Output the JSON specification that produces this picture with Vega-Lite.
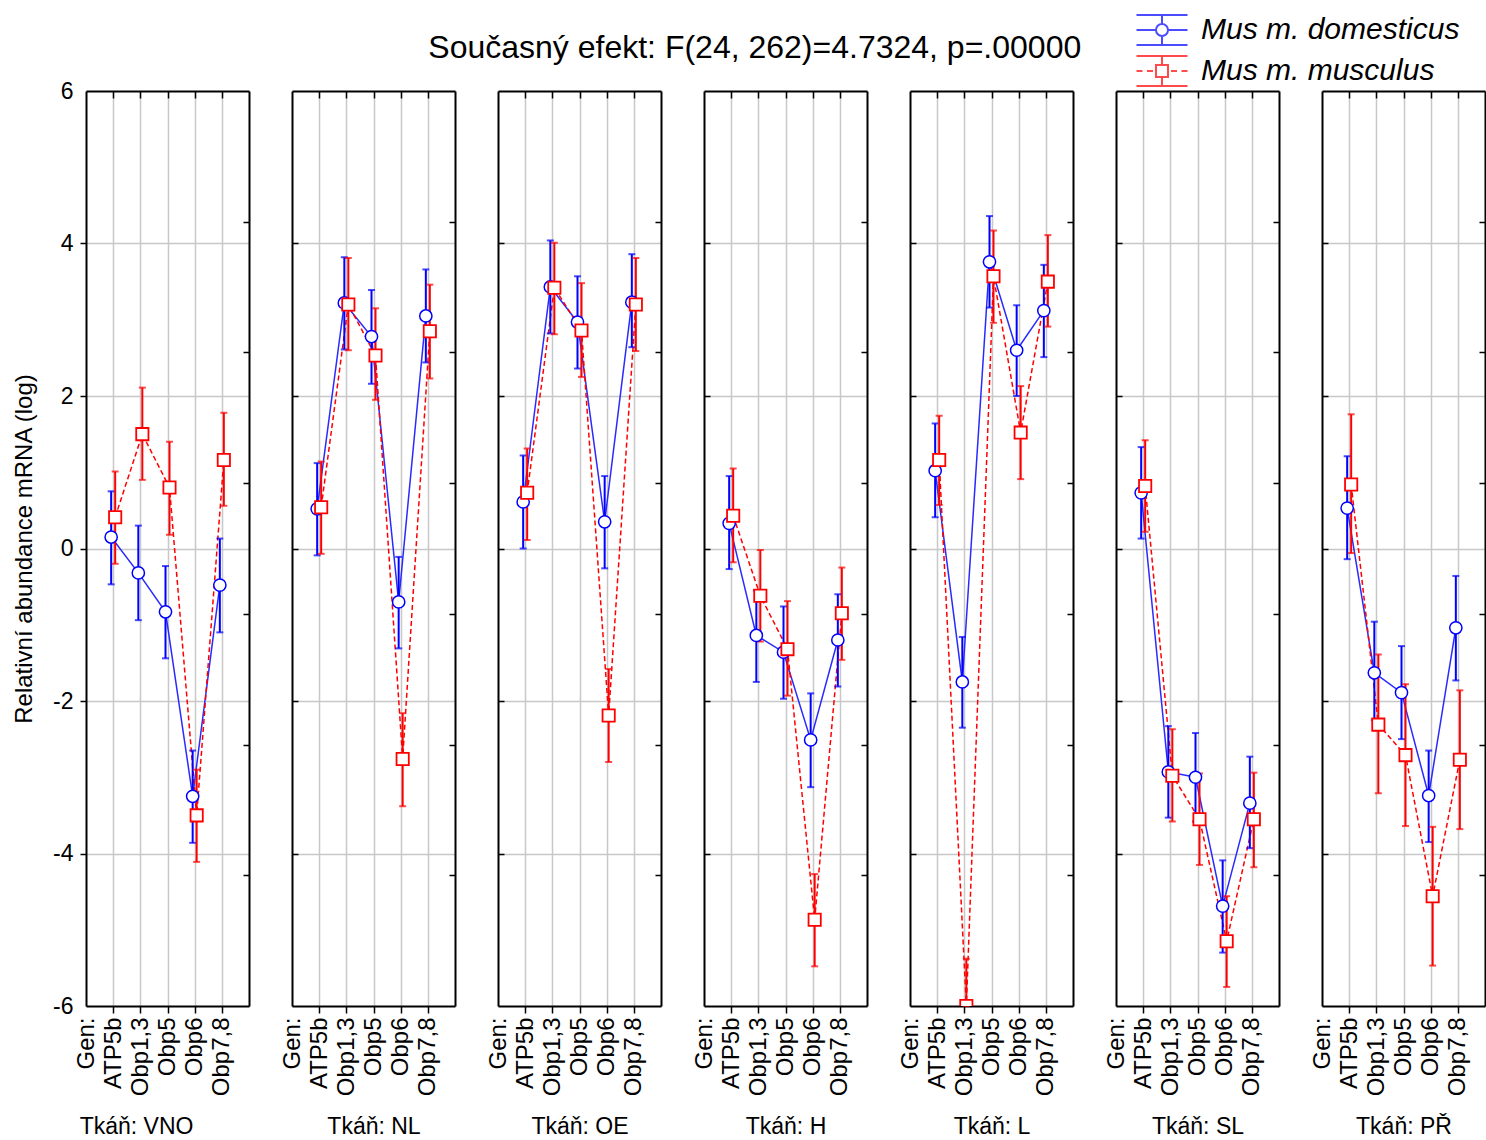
{
  "$schema": "https://vega.github.io/schema/vega-lite/v6.json",
  "padding": {"left": 12, "top": 14, "right": 0, "bottom": 0},
  "title": {"text": "Současný efekt: F(24, 262)=4.7324, p=.00000", "fontSize": 32, "fontWeight": "normal", "color": "black", "anchor": "middle", "offset": -51, "dx": 0},
  "datasets": {
    "d": [
      {"tissue": "VNO", "gene": "ATP5b", "species": "Mus m. domesticus", "mean": 0.15, "lo": -0.47, "hi": 0.75},
      {"tissue": "VNO", "gene": "Obp1,3", "species": "Mus m. domesticus", "mean": -0.32, "lo": -0.94, "hi": 0.30},
      {"tissue": "VNO", "gene": "Obp5", "species": "Mus m. domesticus", "mean": -0.83, "lo": -1.44, "hi": -0.23},
      {"tissue": "VNO", "gene": "Obp6", "species": "Mus m. domesticus", "mean": -3.25, "lo": -3.86, "hi": -2.65},
      {"tissue": "VNO", "gene": "Obp7,8", "species": "Mus m. domesticus", "mean": -0.48, "lo": -1.10, "hi": 0.13},
      {"tissue": "VNO", "gene": "ATP5b", "species": "Mus m. musculus", "mean": 0.41, "lo": -0.20, "hi": 1.01},
      {"tissue": "VNO", "gene": "Obp1,3", "species": "Mus m. musculus", "mean": 1.50, "lo": 0.90, "hi": 2.11},
      {"tissue": "VNO", "gene": "Obp5", "species": "Mus m. musculus", "mean": 0.80, "lo": 0.18, "hi": 1.40},
      {"tissue": "VNO", "gene": "Obp6", "species": "Mus m. musculus", "mean": -3.50, "lo": -4.11, "hi": -2.90},
      {"tissue": "VNO", "gene": "Obp7,8", "species": "Mus m. musculus", "mean": 1.16, "lo": 0.56, "hi": 1.78},
      {"tissue": "NL", "gene": "ATP5b", "species": "Mus m. domesticus", "mean": 0.52, "lo": -0.09, "hi": 1.12},
      {"tissue": "NL", "gene": "Obp1,3", "species": "Mus m. domesticus", "mean": 3.22, "lo": 2.61, "hi": 3.82},
      {"tissue": "NL", "gene": "Obp5", "species": "Mus m. domesticus", "mean": 2.78, "lo": 2.16, "hi": 3.39},
      {"tissue": "NL", "gene": "Obp6", "species": "Mus m. domesticus", "mean": -0.70, "lo": -1.31, "hi": -0.11},
      {"tissue": "NL", "gene": "Obp7,8", "species": "Mus m. domesticus", "mean": 3.05, "lo": 2.44, "hi": 3.66},
      {"tissue": "NL", "gene": "ATP5b", "species": "Mus m. musculus", "mean": 0.54, "lo": -0.07, "hi": 1.14},
      {"tissue": "NL", "gene": "Obp1,3", "species": "Mus m. musculus", "mean": 3.20, "lo": 2.60, "hi": 3.81},
      {"tissue": "NL", "gene": "Obp5", "species": "Mus m. musculus", "mean": 2.53, "lo": 1.95, "hi": 3.15},
      {"tissue": "NL", "gene": "Obp6", "species": "Mus m. musculus", "mean": -2.76, "lo": -3.38, "hi": -2.16},
      {"tissue": "NL", "gene": "Obp7,8", "species": "Mus m. musculus", "mean": 2.85, "lo": 2.23, "hi": 3.46},
      {"tissue": "OE", "gene": "ATP5b", "species": "Mus m. domesticus", "mean": 0.61, "lo": 0.00, "hi": 1.22},
      {"tissue": "OE", "gene": "Obp1,3", "species": "Mus m. domesticus", "mean": 3.43, "lo": 2.82, "hi": 4.04},
      {"tissue": "OE", "gene": "Obp5", "species": "Mus m. domesticus", "mean": 2.97, "lo": 2.36, "hi": 3.57},
      {"tissue": "OE", "gene": "Obp6", "species": "Mus m. domesticus", "mean": 0.35, "lo": -0.26, "hi": 0.95},
      {"tissue": "OE", "gene": "Obp7,8", "species": "Mus m. domesticus", "mean": 3.23, "lo": 2.64, "hi": 3.86},
      {"tissue": "OE", "gene": "ATP5b", "species": "Mus m. musculus", "mean": 0.73, "lo": 0.11, "hi": 1.31},
      {"tissue": "OE", "gene": "Obp1,3", "species": "Mus m. musculus", "mean": 3.42, "lo": 2.81, "hi": 4.01},
      {"tissue": "OE", "gene": "Obp5", "species": "Mus m. musculus", "mean": 2.86, "lo": 2.25, "hi": 3.48},
      {"tissue": "OE", "gene": "Obp6", "species": "Mus m. musculus", "mean": -2.19, "lo": -2.80, "hi": -1.58},
      {"tissue": "OE", "gene": "Obp7,8", "species": "Mus m. musculus", "mean": 3.20, "lo": 2.59, "hi": 3.81},
      {"tissue": "H", "gene": "ATP5b", "species": "Mus m. domesticus", "mean": 0.33, "lo": -0.27, "hi": 0.95},
      {"tissue": "H", "gene": "Obp1,3", "species": "Mus m. domesticus", "mean": -1.14, "lo": -1.75, "hi": -0.55},
      {"tissue": "H", "gene": "Obp5", "species": "Mus m. domesticus", "mean": -1.36, "lo": -1.97, "hi": -0.76},
      {"tissue": "H", "gene": "Obp6", "species": "Mus m. domesticus", "mean": -2.51, "lo": -3.13, "hi": -1.90},
      {"tissue": "H", "gene": "Obp7,8", "species": "Mus m. domesticus", "mean": -1.20, "lo": -1.81, "hi": -0.60},
      {"tissue": "H", "gene": "ATP5b", "species": "Mus m. musculus", "mean": 0.43, "lo": -0.18, "hi": 1.05},
      {"tissue": "H", "gene": "Obp1,3", "species": "Mus m. musculus", "mean": -0.62, "lo": -1.22, "hi": -0.02},
      {"tissue": "H", "gene": "Obp5", "species": "Mus m. musculus", "mean": -1.32, "lo": -1.93, "hi": -0.69},
      {"tissue": "H", "gene": "Obp6", "species": "Mus m. musculus", "mean": -4.87, "lo": -5.48, "hi": -4.27},
      {"tissue": "H", "gene": "Obp7,8", "species": "Mus m. musculus", "mean": -0.85, "lo": -1.46, "hi": -0.25},
      {"tissue": "L", "gene": "ATP5b", "species": "Mus m. domesticus", "mean": 1.02, "lo": 0.41, "hi": 1.64},
      {"tissue": "L", "gene": "Obp1,3", "species": "Mus m. domesticus", "mean": -1.75, "lo": -2.35, "hi": -1.16},
      {"tissue": "L", "gene": "Obp5", "species": "Mus m. domesticus", "mean": 3.76, "lo": 3.16, "hi": 4.36},
      {"tissue": "L", "gene": "Obp6", "species": "Mus m. domesticus", "mean": 2.60, "lo": 2.00, "hi": 3.19},
      {"tissue": "L", "gene": "Obp7,8", "species": "Mus m. domesticus", "mean": 3.12, "lo": 2.51, "hi": 3.72},
      {"tissue": "L", "gene": "ATP5b", "species": "Mus m. musculus", "mean": 1.16, "lo": 0.57, "hi": 1.74},
      {"tissue": "L", "gene": "Obp1,3", "species": "Mus m. musculus", "mean": -6.00, "lo": -6.00, "hi": -5.38},
      {"tissue": "L", "gene": "Obp5", "species": "Mus m. musculus", "mean": 3.57, "lo": 2.96, "hi": 4.17},
      {"tissue": "L", "gene": "Obp6", "species": "Mus m. musculus", "mean": 1.52, "lo": 0.91, "hi": 2.13},
      {"tissue": "L", "gene": "Obp7,8", "species": "Mus m. musculus", "mean": 3.50, "lo": 2.91, "hi": 4.11},
      {"tissue": "SL", "gene": "ATP5b", "species": "Mus m. domesticus", "mean": 0.73, "lo": 0.13, "hi": 1.33},
      {"tissue": "SL", "gene": "Obp1,3", "species": "Mus m. domesticus", "mean": -2.93, "lo": -3.53, "hi": -2.33},
      {"tissue": "SL", "gene": "Obp5", "species": "Mus m. domesticus", "mean": -3.00, "lo": -3.58, "hi": -2.42},
      {"tissue": "SL", "gene": "Obp6", "species": "Mus m. domesticus", "mean": -4.69, "lo": -5.30, "hi": -4.09},
      {"tissue": "SL", "gene": "Obp7,8", "species": "Mus m. domesticus", "mean": -3.34, "lo": -3.93, "hi": -2.73},
      {"tissue": "SL", "gene": "ATP5b", "species": "Mus m. musculus", "mean": 0.82, "lo": 0.22, "hi": 1.42},
      {"tissue": "SL", "gene": "Obp1,3", "species": "Mus m. musculus", "mean": -2.98, "lo": -3.58, "hi": -2.37},
      {"tissue": "SL", "gene": "Obp5", "species": "Mus m. musculus", "mean": -3.55, "lo": -4.15, "hi": -2.95},
      {"tissue": "SL", "gene": "Obp6", "species": "Mus m. musculus", "mean": -5.15, "lo": -5.75, "hi": -4.56},
      {"tissue": "SL", "gene": "Obp7,8", "species": "Mus m. musculus", "mean": -3.55, "lo": -4.18, "hi": -2.94},
      {"tissue": "PŘ", "gene": "ATP5b", "species": "Mus m. domesticus", "mean": 0.53, "lo": -0.14, "hi": 1.21},
      {"tissue": "PŘ", "gene": "Obp1,3", "species": "Mus m. domesticus", "mean": -1.63, "lo": -2.25, "hi": -0.96},
      {"tissue": "PŘ", "gene": "Obp5", "species": "Mus m. domesticus", "mean": -1.89, "lo": -2.50, "hi": -1.28},
      {"tissue": "PŘ", "gene": "Obp6", "species": "Mus m. domesticus", "mean": -3.24, "lo": -3.85, "hi": -2.65},
      {"tissue": "PŘ", "gene": "Obp7,8", "species": "Mus m. domesticus", "mean": -1.04, "lo": -1.73, "hi": -0.36},
      {"tissue": "PŘ", "gene": "ATP5b", "species": "Mus m. musculus", "mean": 0.84, "lo": -0.06, "hi": 1.76},
      {"tissue": "PŘ", "gene": "Obp1,3", "species": "Mus m. musculus", "mean": -2.31, "lo": -3.21, "hi": -1.39},
      {"tissue": "PŘ", "gene": "Obp5", "species": "Mus m. musculus", "mean": -2.71, "lo": -3.64, "hi": -1.78},
      {"tissue": "PŘ", "gene": "Obp6", "species": "Mus m. musculus", "mean": -4.56, "lo": -5.47, "hi": -3.65},
      {"tissue": "PŘ", "gene": "Obp7,8", "species": "Mus m. musculus", "mean": -2.77, "lo": -3.68, "hi": -1.86}
    ]
  },
  "spacing": 43,
  "bounds": "flush",
  "hconcat": [
    {
      "width": 163, "height": 915, "data": {"name": "d"},
      "transform": [{"filter": "datum.tissue == 'VNO'"}],
      "resolve": {"axis": {"x": "independent", "y": "independent"}},
      "encoding": {"x": {"field": "gene", "type": "nominal", "axis": null}},
      "layer": [
        {"transform": [{"filter": "false"}],
         "mark": {"type": "point", "filled": false, "fill": "white", "strokeWidth": 2},
         "encoding": {
           "color": {"field": "species", "type": "nominal", "title": null, "scale": {"domain": ["Mus m. domesticus", "Mus m. musculus"], "range": ["#0000ff", "#ff0000"]},
                     "legend": {"orient": "none", "legendX": 1060, "legendY": -77, "padding": 0, "title": null, "labelFontSize": 30, "labelFontStyle": "italic", "labelColor": "black", "labelLimit": 0, "symbolSize": 900, "symbolStrokeWidth": 2, "symbolFillColor": "white", "rowPadding": 3, "labelOffset": 23}},
           "shape": {"field": "species", "type": "nominal", "title": null, "scale": {"domain": ["Mus m. domesticus", "Mus m. musculus"], "range": ["M-1.7,-1H1.7M-1.7,1H1.7M0,-1V-0.4M0,0.4V1M-1.7,0H-0.4M0.4,0H1.7M-0.4,0A0.4,0.4,0,1,0,0.4,0A0.4,0.4,0,1,0,-0.4,0Z", "M-1.7,-1H1.7M-1.7,1H1.7M0,-1V-0.4M0,0.4V1M-1.7,0H-1.3M-1.0,0H-0.6M0.6,0H1.0M1.3,0H1.7M-0.4,-0.4H0.4V0.4H-0.4Z"]},
                     "legend": {"orient": "none", "legendX": 1060, "legendY": -77, "padding": 0, "title": null, "labelFontSize": 30, "labelFontStyle": "italic", "labelColor": "black", "labelLimit": 0, "symbolSize": 900, "symbolStrokeWidth": 2, "symbolFillColor": "white", "rowPadding": 3, "labelOffset": 23}}
         }},
        {"transform": [{"filter": "datum.species == 'Mus m. domesticus'"}],
         "mark": {"type": "line", "color": "#2a2aff", "strokeWidth": 1.5, "xOffset": -2},
         "encoding": {
           "x": {"field": "gene", "type": "nominal", "scale": {"type": "point", "padding": 0, "domain": ["Gen:", "ATP5b", "Obp1,3", "Obp5", "Obp6", "Obp7,8", " "]},
                 "axis": {"orient": "bottom", "title": "Tkáň: VNO", "titleX": 50, "labelAngle": 270, "labelPadding": 4, "tickSize": 7, "tickColor": {"condition": {"test": "datum.value == 'Gen:' || datum.value == ' '", "value": "transparent"}, "value": "black"}, "grid": true, "gridColor": {"condition": {"test": "datum.value == 'Gen:' || datum.value == ' '", "value": "transparent"}, "value": "#c8c8c8"}}},
           "y": {"field": "mean", "type": "quantitative", "scale": {"domain": [-6, 6], "nice": false, "zero": false},
                 "axis": {"orient": "left", "values": [-6, -4, -2, 0, 2, 4, 6], "labelExpr": "datum.value", "labelFontSize": 23, "tickSize": 6, "labelPadding": 7, "tickColor": {"condition": {"test": "datum.value == 6 || datum.value == -6", "value": "transparent"}, "value": "black"}, "grid": true, "gridColor": {"condition": {"test": "datum.value == 6 || datum.value == -6", "value": "transparent"}, "value": "#c8c8c8"}, "title": "Relativní abundance mRNA (log)", "titleFontSize": 24, "titlePadding": 16}}
         }},
        {"transform": [{"filter": "datum.species == 'Mus m. musculus'"}],
         "mark": {"type": "line", "color": "#ff0000", "strokeWidth": 1.5, "strokeDash": [5, 3], "xOffset": 2},
         "encoding": {"y": {"field": "mean", "type": "quantitative", "axis": null}}},
        {"transform": [{"filter": "datum.species == 'Mus m. domesticus'"}],
         "mark": {"type": "errorbar", "color": "#0000ff", "thickness": 2, "size": 7, "ticks": {"xOffset": -2}, "rule": {"xOffset": -2}},
         "encoding": {"y": {"field": "lo", "type": "quantitative", "axis": null}, "y2": {"field": "hi"}}},
        {"transform": [{"filter": "datum.species == 'Mus m. musculus'"}],
         "mark": {"type": "errorbar", "color": "#ff0000", "thickness": 2, "size": 7, "ticks": {"xOffset": 2}, "rule": {"xOffset": 2}},
         "encoding": {"y": {"field": "lo", "type": "quantitative", "axis": null}, "y2": {"field": "hi"}}},
        {"transform": [{"filter": "datum.species == 'Mus m. domesticus'"}],
         "mark": {"type": "point", "shape": "circle", "filled": false, "fill": "white", "color": "#0000ff", "size": 150, "strokeWidth": 1.5, "opacity": 1, "xOffset": -2},
         "encoding": {"y": {"field": "mean", "type": "quantitative", "axis": null}}},
        {"transform": [{"filter": "datum.species == 'Mus m. musculus'"}],
         "mark": {"type": "point", "shape": "square", "filled": false, "fill": "white", "color": "#ff0000", "size": 150, "strokeWidth": 1.8, "opacity": 1, "xOffset": 2, "clip": true},
         "encoding": {
           "x": {"field": "gene", "type": "nominal", "axis": {"orient": "top", "labels": false, "title": null, "grid": false, "tickSize": -7, "values": ["ATP5b", "Obp1,3", "Obp5", "Obp6", "Obp7,8"]}},
           "y": {"field": "mean", "type": "quantitative", "axis": {"orient": "right", "labels": false, "title": null, "grid": false, "tickSize": -6, "values": [-4.2857, -2.5714, -0.8571, 0.8571, 2.5714, 4.2857]}}}}
      ]
    },
    {
      "width": 163, "height": 915, "data": {"name": "d"},
      "transform": [{"filter": "datum.tissue == 'NL'"}],
      "resolve": {"axis": {"x": "independent", "y": "independent"}},
      "encoding": {"x": {"field": "gene", "type": "nominal", "axis": null}},
      "layer": [
        {"transform": [{"filter": "datum.species == 'Mus m. domesticus'"}],
         "mark": {"type": "line", "color": "#2a2aff", "strokeWidth": 1.5, "xOffset": -2},
         "encoding": {
           "x": {"field": "gene", "type": "nominal", "scale": {"type": "point", "padding": 0, "domain": ["Gen:", "ATP5b", "Obp1,3", "Obp5", "Obp6", "Obp7,8", " "]},
                 "axis": {"orient": "bottom", "title": "Tkáň: NL", "labelAngle": 270, "labelPadding": 4, "tickSize": 7, "tickColor": {"condition": {"test": "datum.value == 'Gen:' || datum.value == ' '", "value": "transparent"}, "value": "black"}, "grid": true, "gridColor": {"condition": {"test": "datum.value == 'Gen:' || datum.value == ' '", "value": "transparent"}, "value": "#c8c8c8"}}},
           "y": {"field": "mean", "type": "quantitative", "scale": {"domain": [-6, 6], "nice": false, "zero": false},
                 "axis": {"orient": "left", "values": [-4, -2, 0, 2, 4], "labels": false, "tickSize": -6, "grid": true, "title": null}}
         }},
        {"transform": [{"filter": "datum.species == 'Mus m. musculus'"}],
         "mark": {"type": "line", "color": "#ff0000", "strokeWidth": 1.5, "strokeDash": [5, 3], "xOffset": 2},
         "encoding": {"y": {"field": "mean", "type": "quantitative", "axis": null}}},
        {"transform": [{"filter": "datum.species == 'Mus m. domesticus'"}],
         "mark": {"type": "errorbar", "color": "#0000ff", "thickness": 2, "size": 7, "ticks": {"xOffset": -2}, "rule": {"xOffset": -2}},
         "encoding": {"y": {"field": "lo", "type": "quantitative", "axis": null}, "y2": {"field": "hi"}}},
        {"transform": [{"filter": "datum.species == 'Mus m. musculus'"}],
         "mark": {"type": "errorbar", "color": "#ff0000", "thickness": 2, "size": 7, "ticks": {"xOffset": 2}, "rule": {"xOffset": 2}},
         "encoding": {"y": {"field": "lo", "type": "quantitative", "axis": null}, "y2": {"field": "hi"}}},
        {"transform": [{"filter": "datum.species == 'Mus m. domesticus'"}],
         "mark": {"type": "point", "shape": "circle", "filled": false, "fill": "white", "color": "#0000ff", "size": 150, "strokeWidth": 1.5, "opacity": 1, "xOffset": -2},
         "encoding": {"y": {"field": "mean", "type": "quantitative", "axis": null}}},
        {"transform": [{"filter": "datum.species == 'Mus m. musculus'"}],
         "mark": {"type": "point", "shape": "square", "filled": false, "fill": "white", "color": "#ff0000", "size": 150, "strokeWidth": 1.8, "opacity": 1, "xOffset": 2, "clip": true},
         "encoding": {
           "x": {"field": "gene", "type": "nominal", "axis": {"orient": "top", "labels": false, "title": null, "grid": false, "tickSize": -7, "values": ["ATP5b", "Obp1,3", "Obp5", "Obp6", "Obp7,8"]}},
           "y": {"field": "mean", "type": "quantitative", "axis": {"orient": "right", "labels": false, "title": null, "grid": false, "tickSize": -6, "values": [-4.2857, -2.5714, -0.8571, 0.8571, 2.5714, 4.2857]}}}}
      ]
    },
    {
      "width": 163, "height": 915, "data": {"name": "d"},
      "transform": [{"filter": "datum.tissue == 'OE'"}],
      "resolve": {"axis": {"x": "independent", "y": "independent"}},
      "encoding": {"x": {"field": "gene", "type": "nominal", "axis": null}},
      "layer": [
        {"transform": [{"filter": "datum.species == 'Mus m. domesticus'"}],
         "mark": {"type": "line", "color": "#2a2aff", "strokeWidth": 1.5, "xOffset": -2},
         "encoding": {
           "x": {"field": "gene", "type": "nominal", "scale": {"type": "point", "padding": 0, "domain": ["Gen:", "ATP5b", "Obp1,3", "Obp5", "Obp6", "Obp7,8", " "]},
                 "axis": {"orient": "bottom", "title": "Tkáň: OE", "labelAngle": 270, "labelPadding": 4, "tickSize": 7, "tickColor": {"condition": {"test": "datum.value == 'Gen:' || datum.value == ' '", "value": "transparent"}, "value": "black"}, "grid": true, "gridColor": {"condition": {"test": "datum.value == 'Gen:' || datum.value == ' '", "value": "transparent"}, "value": "#c8c8c8"}}},
           "y": {"field": "mean", "type": "quantitative", "scale": {"domain": [-6, 6], "nice": false, "zero": false},
                 "axis": {"orient": "left", "values": [-4, -2, 0, 2, 4], "labels": false, "tickSize": -6, "grid": true, "title": null}}
         }},
        {"transform": [{"filter": "datum.species == 'Mus m. musculus'"}],
         "mark": {"type": "line", "color": "#ff0000", "strokeWidth": 1.5, "strokeDash": [5, 3], "xOffset": 2},
         "encoding": {"y": {"field": "mean", "type": "quantitative", "axis": null}}},
        {"transform": [{"filter": "datum.species == 'Mus m. domesticus'"}],
         "mark": {"type": "errorbar", "color": "#0000ff", "thickness": 2, "size": 7, "ticks": {"xOffset": -2}, "rule": {"xOffset": -2}},
         "encoding": {"y": {"field": "lo", "type": "quantitative", "axis": null}, "y2": {"field": "hi"}}},
        {"transform": [{"filter": "datum.species == 'Mus m. musculus'"}],
         "mark": {"type": "errorbar", "color": "#ff0000", "thickness": 2, "size": 7, "ticks": {"xOffset": 2}, "rule": {"xOffset": 2}},
         "encoding": {"y": {"field": "lo", "type": "quantitative", "axis": null}, "y2": {"field": "hi"}}},
        {"transform": [{"filter": "datum.species == 'Mus m. domesticus'"}],
         "mark": {"type": "point", "shape": "circle", "filled": false, "fill": "white", "color": "#0000ff", "size": 150, "strokeWidth": 1.5, "opacity": 1, "xOffset": -2},
         "encoding": {"y": {"field": "mean", "type": "quantitative", "axis": null}}},
        {"transform": [{"filter": "datum.species == 'Mus m. musculus'"}],
         "mark": {"type": "point", "shape": "square", "filled": false, "fill": "white", "color": "#ff0000", "size": 150, "strokeWidth": 1.8, "opacity": 1, "xOffset": 2, "clip": true},
         "encoding": {
           "x": {"field": "gene", "type": "nominal", "axis": {"orient": "top", "labels": false, "title": null, "grid": false, "tickSize": -7, "values": ["ATP5b", "Obp1,3", "Obp5", "Obp6", "Obp7,8"]}},
           "y": {"field": "mean", "type": "quantitative", "axis": {"orient": "right", "labels": false, "title": null, "grid": false, "tickSize": -6, "values": [-4.2857, -2.5714, -0.8571, 0.8571, 2.5714, 4.2857]}}}}
      ]
    },
    {
      "width": 163, "height": 915, "data": {"name": "d"},
      "transform": [{"filter": "datum.tissue == 'H'"}],
      "resolve": {"axis": {"x": "independent", "y": "independent"}},
      "encoding": {"x": {"field": "gene", "type": "nominal", "axis": null}},
      "layer": [
        {"transform": [{"filter": "datum.species == 'Mus m. domesticus'"}],
         "mark": {"type": "line", "color": "#2a2aff", "strokeWidth": 1.5, "xOffset": -2},
         "encoding": {
           "x": {"field": "gene", "type": "nominal", "scale": {"type": "point", "padding": 0, "domain": ["Gen:", "ATP5b", "Obp1,3", "Obp5", "Obp6", "Obp7,8", " "]},
                 "axis": {"orient": "bottom", "title": "Tkáň: H", "labelAngle": 270, "labelPadding": 4, "tickSize": 7, "tickColor": {"condition": {"test": "datum.value == 'Gen:' || datum.value == ' '", "value": "transparent"}, "value": "black"}, "grid": true, "gridColor": {"condition": {"test": "datum.value == 'Gen:' || datum.value == ' '", "value": "transparent"}, "value": "#c8c8c8"}}},
           "y": {"field": "mean", "type": "quantitative", "scale": {"domain": [-6, 6], "nice": false, "zero": false},
                 "axis": {"orient": "left", "values": [-4, -2, 0, 2, 4], "labels": false, "tickSize": -6, "grid": true, "title": null}}
         }},
        {"transform": [{"filter": "datum.species == 'Mus m. musculus'"}],
         "mark": {"type": "line", "color": "#ff0000", "strokeWidth": 1.5, "strokeDash": [5, 3], "xOffset": 2},
         "encoding": {"y": {"field": "mean", "type": "quantitative", "axis": null}}},
        {"transform": [{"filter": "datum.species == 'Mus m. domesticus'"}],
         "mark": {"type": "errorbar", "color": "#0000ff", "thickness": 2, "size": 7, "ticks": {"xOffset": -2}, "rule": {"xOffset": -2}},
         "encoding": {"y": {"field": "lo", "type": "quantitative", "axis": null}, "y2": {"field": "hi"}}},
        {"transform": [{"filter": "datum.species == 'Mus m. musculus'"}],
         "mark": {"type": "errorbar", "color": "#ff0000", "thickness": 2, "size": 7, "ticks": {"xOffset": 2}, "rule": {"xOffset": 2}},
         "encoding": {"y": {"field": "lo", "type": "quantitative", "axis": null}, "y2": {"field": "hi"}}},
        {"transform": [{"filter": "datum.species == 'Mus m. domesticus'"}],
         "mark": {"type": "point", "shape": "circle", "filled": false, "fill": "white", "color": "#0000ff", "size": 150, "strokeWidth": 1.5, "opacity": 1, "xOffset": -2},
         "encoding": {"y": {"field": "mean", "type": "quantitative", "axis": null}}},
        {"transform": [{"filter": "datum.species == 'Mus m. musculus'"}],
         "mark": {"type": "point", "shape": "square", "filled": false, "fill": "white", "color": "#ff0000", "size": 150, "strokeWidth": 1.8, "opacity": 1, "xOffset": 2, "clip": true},
         "encoding": {
           "x": {"field": "gene", "type": "nominal", "axis": {"orient": "top", "labels": false, "title": null, "grid": false, "tickSize": -7, "values": ["ATP5b", "Obp1,3", "Obp5", "Obp6", "Obp7,8"]}},
           "y": {"field": "mean", "type": "quantitative", "axis": {"orient": "right", "labels": false, "title": null, "grid": false, "tickSize": -6, "values": [-4.2857, -2.5714, -0.8571, 0.8571, 2.5714, 4.2857]}}}}
      ]
    },
    {
      "width": 163, "height": 915, "data": {"name": "d"},
      "transform": [{"filter": "datum.tissue == 'L'"}],
      "resolve": {"axis": {"x": "independent", "y": "independent"}},
      "encoding": {"x": {"field": "gene", "type": "nominal", "axis": null}},
      "layer": [
        {"transform": [{"filter": "datum.species == 'Mus m. domesticus'"}],
         "mark": {"type": "line", "color": "#2a2aff", "strokeWidth": 1.5, "xOffset": -2},
         "encoding": {
           "x": {"field": "gene", "type": "nominal", "scale": {"type": "point", "padding": 0, "domain": ["Gen:", "ATP5b", "Obp1,3", "Obp5", "Obp6", "Obp7,8", " "]},
                 "axis": {"orient": "bottom", "title": "Tkáň: L", "labelAngle": 270, "labelPadding": 4, "tickSize": 7, "tickColor": {"condition": {"test": "datum.value == 'Gen:' || datum.value == ' '", "value": "transparent"}, "value": "black"}, "grid": true, "gridColor": {"condition": {"test": "datum.value == 'Gen:' || datum.value == ' '", "value": "transparent"}, "value": "#c8c8c8"}}},
           "y": {"field": "mean", "type": "quantitative", "scale": {"domain": [-6, 6], "nice": false, "zero": false},
                 "axis": {"orient": "left", "values": [-4, -2, 0, 2, 4], "labels": false, "tickSize": -6, "grid": true, "title": null}}
         }},
        {"transform": [{"filter": "datum.species == 'Mus m. musculus'"}],
         "mark": {"type": "line", "color": "#ff0000", "strokeWidth": 1.5, "strokeDash": [5, 3], "xOffset": 2},
         "encoding": {"y": {"field": "mean", "type": "quantitative", "axis": null}}},
        {"transform": [{"filter": "datum.species == 'Mus m. domesticus'"}],
         "mark": {"type": "errorbar", "color": "#0000ff", "thickness": 2, "size": 7, "ticks": {"xOffset": -2}, "rule": {"xOffset": -2}},
         "encoding": {"y": {"field": "lo", "type": "quantitative", "axis": null}, "y2": {"field": "hi"}}},
        {"transform": [{"filter": "datum.species == 'Mus m. musculus'"}],
         "mark": {"type": "errorbar", "color": "#ff0000", "thickness": 2, "size": 7, "ticks": {"xOffset": 2}, "rule": {"xOffset": 2}},
         "encoding": {"y": {"field": "lo", "type": "quantitative", "axis": null}, "y2": {"field": "hi"}}},
        {"transform": [{"filter": "datum.species == 'Mus m. domesticus'"}],
         "mark": {"type": "point", "shape": "circle", "filled": false, "fill": "white", "color": "#0000ff", "size": 150, "strokeWidth": 1.5, "opacity": 1, "xOffset": -2},
         "encoding": {"y": {"field": "mean", "type": "quantitative", "axis": null}}},
        {"transform": [{"filter": "datum.species == 'Mus m. musculus'"}],
         "mark": {"type": "point", "shape": "square", "filled": false, "fill": "white", "color": "#ff0000", "size": 150, "strokeWidth": 1.8, "opacity": 1, "xOffset": 2, "clip": true},
         "encoding": {
           "x": {"field": "gene", "type": "nominal", "axis": {"orient": "top", "labels": false, "title": null, "grid": false, "tickSize": -7, "values": ["ATP5b", "Obp1,3", "Obp5", "Obp6", "Obp7,8"]}},
           "y": {"field": "mean", "type": "quantitative", "axis": {"orient": "right", "labels": false, "title": null, "grid": false, "tickSize": -6, "values": [-4.2857, -2.5714, -0.8571, 0.8571, 2.5714, 4.2857]}}}}
      ]
    },
    {
      "width": 163, "height": 915, "data": {"name": "d"},
      "transform": [{"filter": "datum.tissue == 'SL'"}],
      "resolve": {"axis": {"x": "independent", "y": "independent"}},
      "encoding": {"x": {"field": "gene", "type": "nominal", "axis": null}},
      "layer": [
        {"transform": [{"filter": "datum.species == 'Mus m. domesticus'"}],
         "mark": {"type": "line", "color": "#2a2aff", "strokeWidth": 1.5, "xOffset": -2},
         "encoding": {
           "x": {"field": "gene", "type": "nominal", "scale": {"type": "point", "padding": 0, "domain": ["Gen:", "ATP5b", "Obp1,3", "Obp5", "Obp6", "Obp7,8", " "]},
                 "axis": {"orient": "bottom", "title": "Tkáň: SL", "labelAngle": 270, "labelPadding": 4, "tickSize": 7, "tickColor": {"condition": {"test": "datum.value == 'Gen:' || datum.value == ' '", "value": "transparent"}, "value": "black"}, "grid": true, "gridColor": {"condition": {"test": "datum.value == 'Gen:' || datum.value == ' '", "value": "transparent"}, "value": "#c8c8c8"}}},
           "y": {"field": "mean", "type": "quantitative", "scale": {"domain": [-6, 6], "nice": false, "zero": false},
                 "axis": {"orient": "left", "values": [-4, -2, 0, 2, 4], "labels": false, "tickSize": -6, "grid": true, "title": null}}
         }},
        {"transform": [{"filter": "datum.species == 'Mus m. musculus'"}],
         "mark": {"type": "line", "color": "#ff0000", "strokeWidth": 1.5, "strokeDash": [5, 3], "xOffset": 2},
         "encoding": {"y": {"field": "mean", "type": "quantitative", "axis": null}}},
        {"transform": [{"filter": "datum.species == 'Mus m. domesticus'"}],
         "mark": {"type": "errorbar", "color": "#0000ff", "thickness": 2, "size": 7, "ticks": {"xOffset": -2}, "rule": {"xOffset": -2}},
         "encoding": {"y": {"field": "lo", "type": "quantitative", "axis": null}, "y2": {"field": "hi"}}},
        {"transform": [{"filter": "datum.species == 'Mus m. musculus'"}],
         "mark": {"type": "errorbar", "color": "#ff0000", "thickness": 2, "size": 7, "ticks": {"xOffset": 2}, "rule": {"xOffset": 2}},
         "encoding": {"y": {"field": "lo", "type": "quantitative", "axis": null}, "y2": {"field": "hi"}}},
        {"transform": [{"filter": "datum.species == 'Mus m. domesticus'"}],
         "mark": {"type": "point", "shape": "circle", "filled": false, "fill": "white", "color": "#0000ff", "size": 150, "strokeWidth": 1.5, "opacity": 1, "xOffset": -2},
         "encoding": {"y": {"field": "mean", "type": "quantitative", "axis": null}}},
        {"transform": [{"filter": "datum.species == 'Mus m. musculus'"}],
         "mark": {"type": "point", "shape": "square", "filled": false, "fill": "white", "color": "#ff0000", "size": 150, "strokeWidth": 1.8, "opacity": 1, "xOffset": 2, "clip": true},
         "encoding": {
           "x": {"field": "gene", "type": "nominal", "axis": {"orient": "top", "labels": false, "title": null, "grid": false, "tickSize": -7, "values": ["ATP5b", "Obp1,3", "Obp5", "Obp6", "Obp7,8"]}},
           "y": {"field": "mean", "type": "quantitative", "axis": {"orient": "right", "labels": false, "title": null, "grid": false, "tickSize": -6, "values": [-4.2857, -2.5714, -0.8571, 0.8571, 2.5714, 4.2857]}}}}
      ]
    },
    {
      "width": 163, "height": 915, "data": {"name": "d"},
      "transform": [{"filter": "datum.tissue == 'PŘ'"}],
      "resolve": {"axis": {"x": "independent", "y": "independent"}},
      "encoding": {"x": {"field": "gene", "type": "nominal", "axis": null}},
      "layer": [
        {"transform": [{"filter": "datum.species == 'Mus m. domesticus'"}],
         "mark": {"type": "line", "color": "#2a2aff", "strokeWidth": 1.5, "xOffset": -2},
         "encoding": {
           "x": {"field": "gene", "type": "nominal", "scale": {"type": "point", "padding": 0, "domain": ["Gen:", "ATP5b", "Obp1,3", "Obp5", "Obp6", "Obp7,8", " "]},
                 "axis": {"orient": "bottom", "title": "Tkáň: PŘ", "labelAngle": 270, "labelPadding": 4, "tickSize": 7, "tickColor": {"condition": {"test": "datum.value == 'Gen:' || datum.value == ' '", "value": "transparent"}, "value": "black"}, "grid": true, "gridColor": {"condition": {"test": "datum.value == 'Gen:' || datum.value == ' '", "value": "transparent"}, "value": "#c8c8c8"}}},
           "y": {"field": "mean", "type": "quantitative", "scale": {"domain": [-6, 6], "nice": false, "zero": false},
                 "axis": {"orient": "left", "values": [-4, -2, 0, 2, 4], "labels": false, "tickSize": -6, "grid": true, "title": null}}
         }},
        {"transform": [{"filter": "datum.species == 'Mus m. musculus'"}],
         "mark": {"type": "line", "color": "#ff0000", "strokeWidth": 1.5, "strokeDash": [5, 3], "xOffset": 2},
         "encoding": {"y": {"field": "mean", "type": "quantitative", "axis": null}}},
        {"transform": [{"filter": "datum.species == 'Mus m. domesticus'"}],
         "mark": {"type": "errorbar", "color": "#0000ff", "thickness": 2, "size": 7, "ticks": {"xOffset": -2}, "rule": {"xOffset": -2}},
         "encoding": {"y": {"field": "lo", "type": "quantitative", "axis": null}, "y2": {"field": "hi"}}},
        {"transform": [{"filter": "datum.species == 'Mus m. musculus'"}],
         "mark": {"type": "errorbar", "color": "#ff0000", "thickness": 2, "size": 7, "ticks": {"xOffset": 2}, "rule": {"xOffset": 2}},
         "encoding": {"y": {"field": "lo", "type": "quantitative", "axis": null}, "y2": {"field": "hi"}}},
        {"transform": [{"filter": "datum.species == 'Mus m. domesticus'"}],
         "mark": {"type": "point", "shape": "circle", "filled": false, "fill": "white", "color": "#0000ff", "size": 150, "strokeWidth": 1.5, "opacity": 1, "xOffset": -2},
         "encoding": {"y": {"field": "mean", "type": "quantitative", "axis": null}}},
        {"transform": [{"filter": "datum.species == 'Mus m. musculus'"}],
         "mark": {"type": "point", "shape": "square", "filled": false, "fill": "white", "color": "#ff0000", "size": 150, "strokeWidth": 1.8, "opacity": 1, "xOffset": 2, "clip": true},
         "encoding": {
           "x": {"field": "gene", "type": "nominal", "axis": {"orient": "top", "labels": false, "title": null, "grid": false, "tickSize": -7, "values": ["ATP5b", "Obp1,3", "Obp5", "Obp6", "Obp7,8"]}},
           "y": {"field": "mean", "type": "quantitative", "axis": {"orient": "right", "labels": false, "title": null, "grid": false, "tickSize": -6, "values": [-4.2857, -2.5714, -0.8571, 0.8571, 2.5714, 4.2857]}}}}
      ]
    }
  ],
  "config": {
    "font": "Liberation Sans",
    "view": {"stroke": null},
    "axis": {"labelColor": "black", "titleColor": "black", "labelFontSize": 24, "titleFontSize": 23, "titleFontWeight": "normal", "domainColor": "black", "domainWidth": 2, "tickColor": "black", "tickWidth": 1.5, "gridColor": "#c8c8c8", "gridWidth": 1.5, "titlePadding": 20}
  }
}
